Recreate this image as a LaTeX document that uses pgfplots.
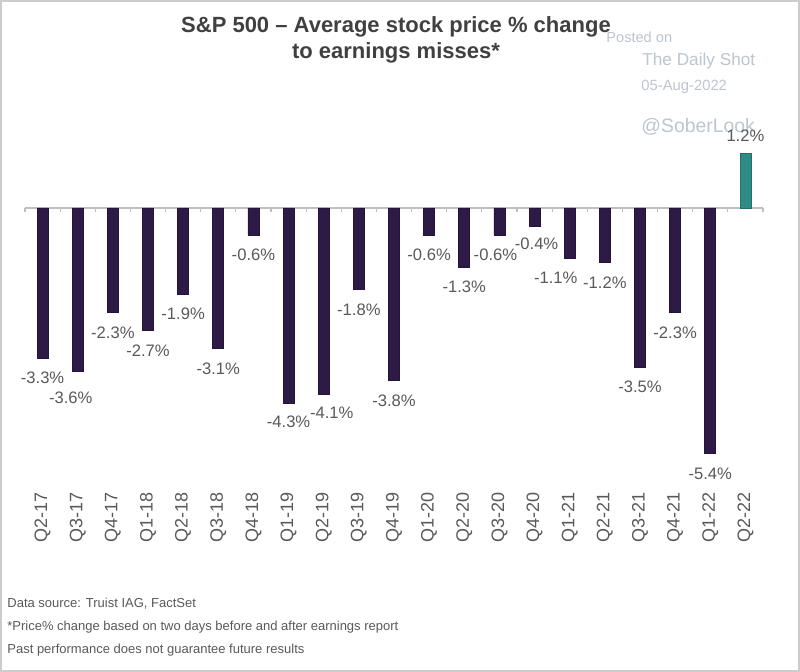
\documentclass[border=0pt]{standalone}
\usepackage{pgfplots}
\pgfplotsset{compat=1.18}
\usepackage{pgfplotstable}
\usepackage{fontspec}
\setmainfont{Liberation Sans}
\definecolor{barpurple}{HTML}{2E1A47}
\definecolor{barteal}{HTML}{2E8B86}
\definecolor{txtgray}{HTML}{595959}
\definecolor{titlegray}{HTML}{404040}
\definecolor{wmark}{HTML}{BCC5D0}
\definecolor{zerogray}{HTML}{BFBFBF}

\pgfplotstableread{
x y dx dy
0 -3.3 0 0
1 -3.6 -3.5 -3
2 -2.3 0 0
3 -2.7 0 0
4 -1.9 0 0
5 -3.1 0 0
6 -0.6 0 0
7 -4.3 0 0.5
8 -4.1 4 0.5
9 -1.8 0 0
10 -3.8 0 0
11 -0.6 0 0
12 -1.3 0 0
13 -0.6 -2 0
14 -0.4 1 1
15 -1.1 -7 0
16 -1.2 0 0
17 -3.5 0 0
18 -2.3 0 0
19 -5.4 0 -0.5
}\negdata

\pgfplotstableread{
x y dx dy
20 1.2 0 0
}\posdata

\begin{document}
\begin{tikzpicture}
\begin{scope}[x=0.5pt,y=-0.5pt]
\draw[line width=1pt, draw=gray!40, fill=white] (1,1) rectangle (799,671);
\node[font=\fontsize{11}{13}\selectfont\bfseries, text=titlegray] at (396,27) {S\&P 500 – Average stock price \% change};
\node[font=\fontsize{11}{13}\selectfont\bfseries, text=titlegray] at (396,53) {to earnings misses*};
\node[font=\fontsize{7.3}{8}\selectfont, text=wmark, anchor=west, inner sep=0pt] at (606,37) {Posted on};
\node[font=\fontsize{8.6}{10}\selectfont, text=wmark, anchor=west, inner sep=0pt] at (642,61) {The Daily Shot};
\node[font=\fontsize{7.4}{9}\selectfont, text=wmark, anchor=west, inner sep=0pt] at (641,87) {05-Aug-2022};
\node[font=\fontsize{9.7}{11}\selectfont, text=wmark, anchor=west, inner sep=0pt] at (641,127) {@SoberLook};
\node[font=\fontsize{6.5}{8}\selectfont, text=txtgray, anchor=west, inner sep=0pt] at (7,604) {Data source: Truist IAG, FactSet};
\node[font=\fontsize{6.5}{8}\selectfont, text=txtgray, anchor=west, inner sep=0pt] at (7,627) {*Price\% change based on two days before and after earnings report};
\node[font=\fontsize{6.5}{8}\selectfont, text=txtgray, anchor=west, inner sep=0pt] at (7,650) {Past performance does not guarantee future results};
\end{scope}
\begin{axis}[
  at={(12.5pt,-240.2pt)}, anchor=south west,
  scale only axis, width=369pt, height=168pt,
  xmin=-0.5, xmax=20.5, ymin=-6.0, ymax=1.4,
  axis line style={draw=none},
  ytick=\empty,
  xtick={0,...,20},
  xticklabels={Q2-17,Q3-17,Q4-17,Q1-18,Q2-18,Q3-18,Q4-18,Q1-19,Q2-19,Q3-19,Q4-19,Q1-20,Q2-20,Q3-20,Q4-20,Q1-21,Q2-21,Q3-21,Q4-21,Q1-22,Q2-22},
  xticklabel style={rotate=90, anchor=east, xshift=-2.5pt, font=\fontsize{9}{10}\selectfont, text=txtgray},
  major tick length=0pt,
  clip=false,
  ybar, bar width=5.5pt,
  point meta=y,
  nodes near coords={\pgfmathprintnumber[fixed,precision=1,fixed zerofill,assume math mode=true]{\pgfplotspointmeta}\%},
  visualization depends on={\thisrow{dx} \as \dx},
  visualization depends on={\thisrow{dy} \as \dy},
]
\draw[zerogray, line width=0.8pt] (axis cs:-0.5,0) -- (axis cs:20.5,0);
\pgfplotsinvokeforeach{-0.5,0.5,...,20.5}{
  \draw[zerogray, line width=0.6pt] (axis cs:#1,0) -- ([yshift=-2pt]axis cs:#1,0);
}
\addplot[bar shift=0pt, fill=barpurple, draw=barpurple!80!black, line width=0.3pt,
  every node near coord/.append style={anchor=center, font=\fontsize{8.3}{9}\selectfont, text=txtgray, xshift=\dx pt, yshift=\dy pt-10pt}]
  table[x=x,y=y] {\negdata};
\addplot[bar shift=0pt, fill=barteal, draw=barteal!80!black, line width=0.3pt,
  every node near coord/.append style={anchor=center, font=\fontsize{8.3}{9}\selectfont, text=txtgray, xshift=\dx pt, yshift=\dy pt+9pt}]
  table[x=x,y=y] {\posdata};
\end{axis}
\end{tikzpicture}
\end{document}
